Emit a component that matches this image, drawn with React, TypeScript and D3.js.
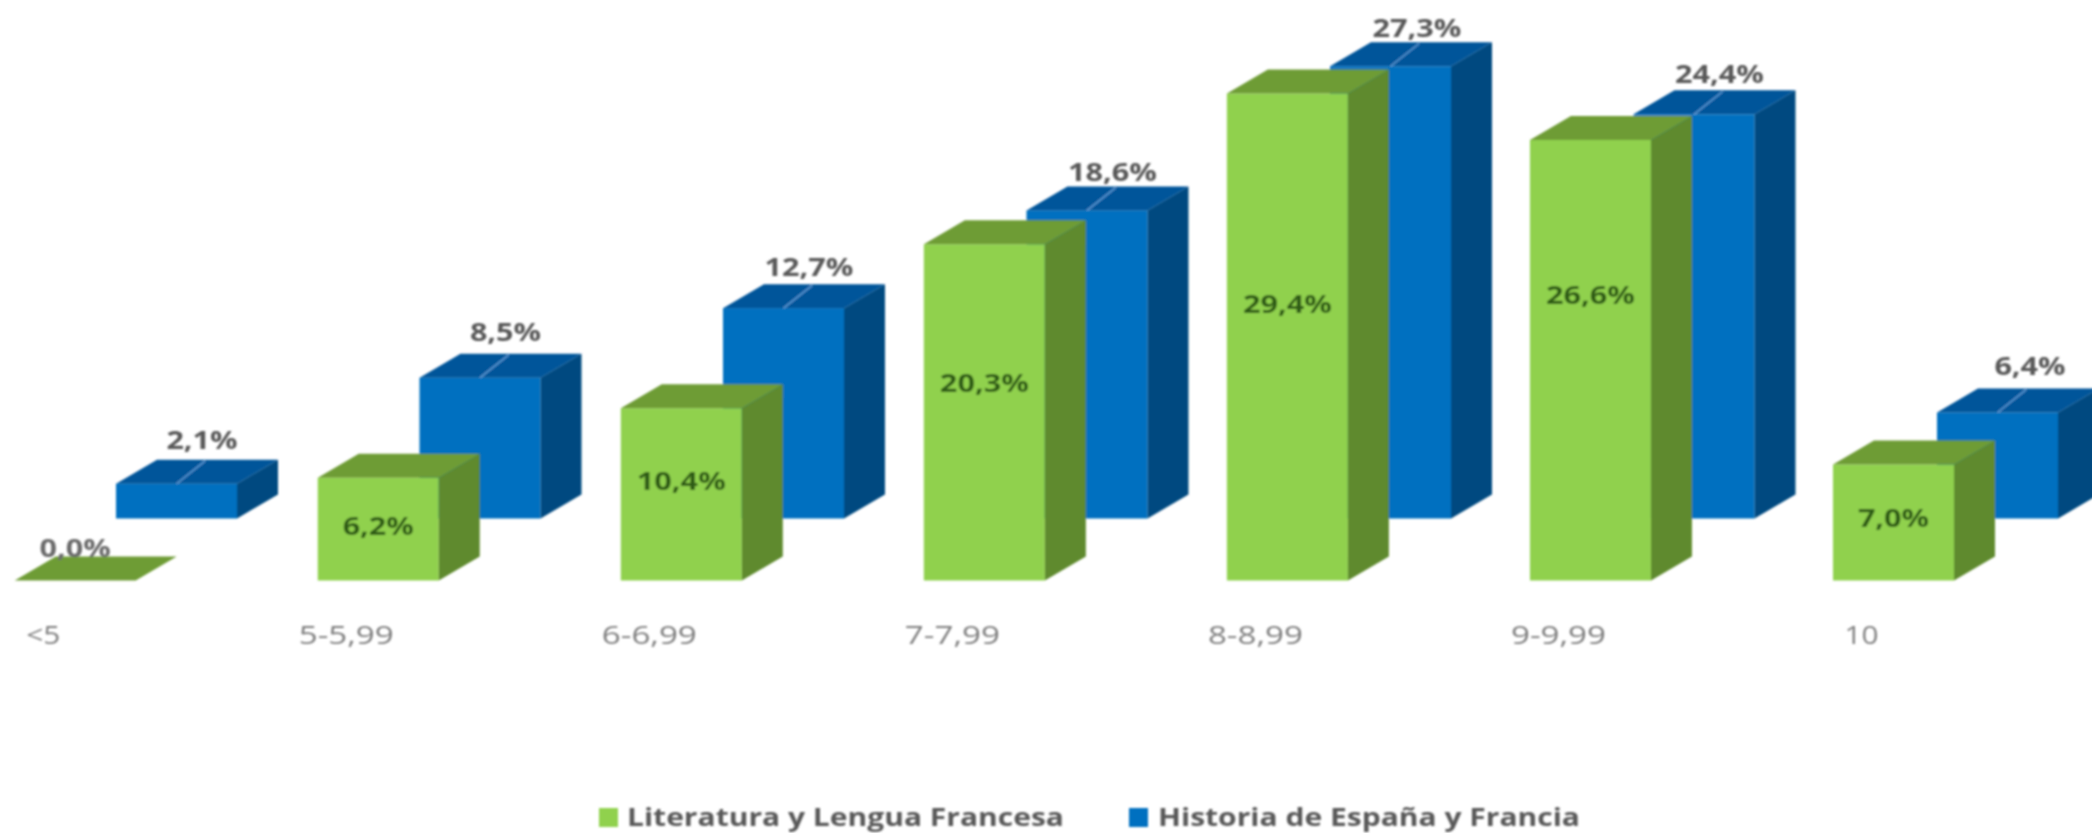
import React from "react";
import * as d3 from "d3";

const categories = ["<5", "5-5,99", "6-6,99", "7-7,99", "8-8,99", "9-9,99", "10"];
const literatura = [0.0, 6.2, 10.4, 20.3, 29.4, 26.6, 7.0];
const historia = [2.1, 8.5, 12.7, 18.6, 27.3, 24.4, 6.4];
const seriesNames = ["Literatura y Lengua Francesa", "Historia de España y Francia"];
// Label nudges, as in the source picture (px)
const greenLabelDy = [0, -3, -13, -29, -33, -65, -4];
const blueLabelDy = [-2, -4, 0, 3, 3, 1, -5];
const blueLabelDx = [0, 0, 0, 0, 1, 0, 7];

const W = 2092, H = 833;
const barW = 121, depthX = 41, depthY = 24;
const baseGreen = 580.5, baseBlue = 518.5;
const FONT = "'Open Sans', sans-serif";

const x = d3.scalePoint<string>().domain(categories).range([14.7, 1833]);
const xBlue = d3.scalePoint<string>().domain(categories).range([116, 1937]);
const h = d3.scaleLinear().domain([0, 29.4]).range([0, 487]);
const fmt = (v: number) => d3.format(".1f")(v).replace(".", ",") + "%";
const pts = (p: [number, number][]) => d3.line()(p) + "Z";
// Reference text is horizontally stretched: fit the label widths
const labelLen = (s: string) => s.length * 17.8;
const catLen = (s: string) => (s.length > 2 ? 95 : 34);

function Bar({ x0, base, v, front, top, side }: any) {
  const t = base - h(v);
  const r = x0 + barW;
  return (
    <g>
      {v > 0 && <rect x={x0} y={t} width={barW} height={h(v)} fill={front} />}
      {v > 0 && <path d={pts([[r, t], [r + depthX, t - depthY], [r + depthX, base - depthY], [r, base]])} fill={side} />}
      <path d={pts([[x0, t], [x0 + depthX, t - depthY], [r + depthX, t - depthY], [r, t]])} fill={top} />
    </g>
  );
}

export default function App() {
  return (
    <svg width={W} height={H} viewBox={`0 0 ${W} ${H}`} style={{ position: "absolute", left: 0, top: 0, display: "block", background: "#fff" }}>
      <defs>
        <filter id="soft" x="-5%" y="-5%" width="110%" height="110%">
          <feGaussianBlur stdDeviation="1" />
        </filter>
      </defs>
      <g filter="url(#soft)">
        {categories.map((c, i) => {
          const gx = x(c)!;
          const bx = xBlue(c)!;
          const bTop = baseBlue - h(historia[i]);
          const bc = bx + barW / 2;
          return (
            <g key={c}>
              <Bar x0={bx} base={baseBlue} v={historia[i]} front="#0070C0" top="#00559A" side="#004A80" />
              <line x1={bc} y1={bTop} x2={bc + depthX * 0.7} y2={bTop - depthY * 0.95} stroke="#5B9BD5" strokeWidth={1.5} />
              <Bar x0={gx} base={baseGreen} v={literatura[i]} front="#90D14E" top="#6E9C36" side="#5F8A2E" />
            </g>
          );
        })}
        {categories.map((c, i) => {
          const gx = x(c)!;
          const bx = xBlue(c)!;
          const bTop = baseBlue - h(historia[i]);
          const gTop = baseGreen - h(literatura[i]);
          const inside = literatura[i] > 0;
          const bl = fmt(historia[i]);
          const gl = fmt(literatura[i]);
          return (
            <g key={c + "-t"} fontFamily={FONT} fontWeight={700} fontSize={25} textAnchor="middle">
              <text x={bx + barW / 2 + depthX / 2 + 5 + blueLabelDx[i]} y={bTop - depthY - 17 + blueLabelDy[i]} dy="0.35em" fill="#595959" textLength={labelLen(bl)} lengthAdjust="spacingAndGlyphs">{bl}</text>
              <text
                x={gx + barW / 2}
                y={inside ? (gTop + baseGreen) / 2 + greenLabelDy[i] : gTop - depthY - 8}
                dy="0.35em"
                fill={inside ? "#2F5C18" : "#6b6b6b"}
                textLength={labelLen(gl)}
                lengthAdjust="spacingAndGlyphs"
              >
                {gl}
              </text>
              <text x={gx + barW / 2 - 32} y={635} dy="0.35em" fontWeight={400} fontSize={26} fill="#7f7f7f" textLength={catLen(c)} lengthAdjust="spacingAndGlyphs">{c}</text>
            </g>
          );
        })}
        <g fontFamily={FONT} fontWeight={700} fontSize={25} fill="#595959">
          <rect x={599} y={808} width={19} height={19} fill="#90D14E" />
          <text x={627} y={817} dy="0.35em" textLength={437} lengthAdjust="spacingAndGlyphs">{seriesNames[0]}</text>
          <rect x={1129} y={808} width={19} height={19} fill="#0070C0" />
          <text x={1158} y={817} dy="0.35em" textLength={422} lengthAdjust="spacingAndGlyphs">{seriesNames[1]}</text>
        </g>
      </g>
    </svg>
  );
}
